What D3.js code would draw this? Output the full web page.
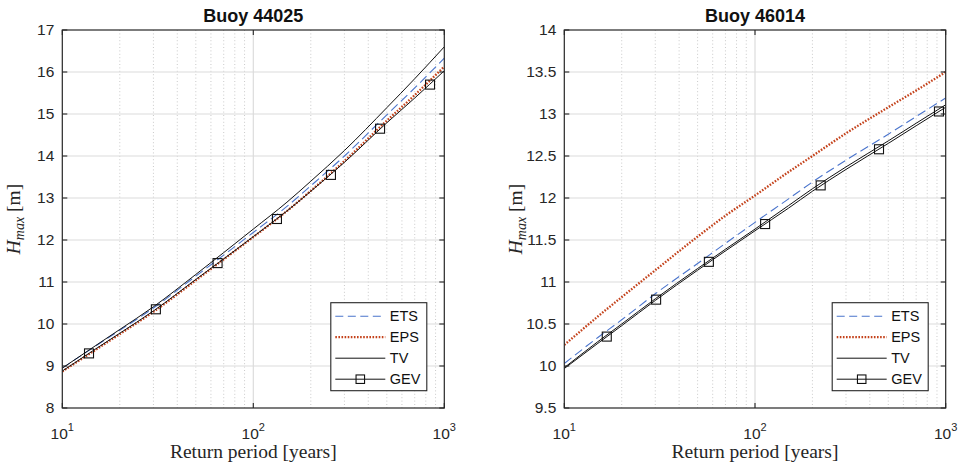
<!DOCTYPE html>
<html>
<head>
<meta charset="utf-8">
<script src="https://cdn.jsdelivr.net/npm/d3@7"></script>
<style>
  body { margin: 0; background: #fff; }
  svg { display: block; }
</style>
</head>
<body>
<svg id="chart" width="959" height="469"></svg>
<script>
// Return periods (years) at which each model curve is sampled
const returnPeriods = [10, 15, 20, 30, 50, 70, 100, 150, 200, 300, 500, 700, 1000];

// Buoy 44025 — maximum wave height Hmax [m]
const ets44025 = [8.95, 9.48, 9.85, 10.38, 11.14, 11.64, 12.18, 12.80, 13.29, 14.00, 14.98, 15.62, 16.33];
const eps44025 = [8.87, 9.39, 9.76, 10.29, 11.04, 11.54, 12.07, 12.69, 13.17, 13.88, 14.84, 15.45, 16.13];
const tv44025  = [8.95, 9.49, 9.87, 10.41, 11.18, 11.70, 12.26, 12.90, 13.40, 14.13, 15.15, 15.84, 16.60];
const gev44025 = [8.88, 9.41, 9.78, 10.31, 11.06, 11.55, 12.08, 12.69, 13.16, 13.85, 14.79, 15.38, 16.03];
const gevMarkerPeriods44025 = [13.8, 30.9, 65, 133, 255, 461, 842];
const gevMarkerValues44025  = [9.30, 10.35, 11.45, 12.50, 13.55, 14.65, 15.70];
const yTicks44025 = [8, 9, 10, 11, 12, 13, 14, 15, 16, 17];

// Buoy 46014 — maximum wave height Hmax [m]
const ets46014 = [10.03, 10.34, 10.55, 10.86, 11.22, 11.46, 11.71, 11.99, 12.19, 12.45, 12.76, 12.97, 13.19];
const eps46014 = [10.25, 10.59, 10.82, 11.14, 11.54, 11.79, 12.03, 12.31, 12.50, 12.77, 13.08, 13.28, 13.50];
const tv46014  = [9.98, 10.29, 10.50, 10.80, 11.16, 11.39, 11.63, 11.91, 12.11, 12.37, 12.68, 12.89, 13.11];
const gev46014 = [9.97, 10.27, 10.48, 10.78, 11.14, 11.37, 11.61, 11.88, 12.08, 12.34, 12.65, 12.86, 13.08];
const gevMarkerPeriods46014 = [16.7, 30.3, 57.3, 113, 221, 447, 922];
const gevMarkerValues46014  = [10.35, 10.79, 11.24, 11.69, 12.15, 12.58, 13.03];
const yTicks46014 = [9.5, 10, 10.5, 11, 11.5, 12, 12.5, 13, 13.5, 14];

// Shared x axis: decades and minor grid positions
const xDecadeExponents = [1, 2, 3];
const xMinorPeriods = [20, 30, 40, 50, 60, 70, 80, 90, 200, 300, 400, 500, 600, 700, 800, 900];

const legendNames = ["ETS", "EPS", "TV", "GEV"];

const seriesStyle = {
  ETS: { color: "#4a74cc", width: 1.1, dash: "9,4.5" },
  EPS: { color: "#c4421b", width: 2.3, dash: "1.6,1.5" },
  TV:  { color: "#111111", width: 1.0, dash: null },
  GEV: { color: "#111111", width: 1.0, dash: null }
};

const axisColor = "#262626";
const sansFont = "'Liberation Sans', Arial, Helvetica, sans-serif";
const serifFont = "'Liberation Serif', 'Times New Roman', serif";

const svg = d3.select("#chart");

const panels = [
  {
    id: "p44025", title: "Buoy 44025", left: 62.3, right: 444.3,
    yDomain: [8, 17], yTicks: yTicks44025,
    series: { ETS: ets44025, EPS: eps44025, TV: tv44025, GEV: gev44025 },
    markerT: gevMarkerPeriods44025, markerV: gevMarkerValues44025
  },
  {
    id: "p46014", title: "Buoy 46014", left: 564.3, right: 945.7,
    yDomain: [9.5, 14], yTicks: yTicks46014,
    series: { ETS: ets46014, EPS: eps46014, TV: tv46014, GEV: gev46014 },
    markerT: gevMarkerPeriods46014, markerV: gevMarkerValues46014
  }
];

const plotTop = 30, plotBottom = 408;

function drawSquare(sel, cx, cy, size) {
  sel.append("rect")
    .attr("x", cx - size / 2).attr("y", cy - size / 2)
    .attr("width", size).attr("height", size)
    .attr("fill", "none").attr("stroke", "#111").attr("stroke-width", 1.1);
}

panels.forEach(p => {
  const x = d3.scaleLog().domain([10, 1000]).range([p.left, p.right]);
  const y = d3.scaleLinear().domain(p.yDomain).range([plotBottom, plotTop]);
  const g = svg.append("g").attr("id", p.id);
  const cx = (p.left + p.right) / 2;

  // clip region for the curves
  svg.append("clipPath").attr("id", "clip-" + p.id)
    .append("rect").attr("x", p.left).attr("y", plotTop)
    .attr("width", p.right - p.left).attr("height", plotBottom - plotTop);

  // grid: dotted minor verticals, solid major lines
  g.selectAll("line.minor").data(xMinorPeriods).join("line")
    .attr("x1", d => x(d)).attr("x2", d => x(d))
    .attr("y1", plotTop).attr("y2", plotBottom)
    .attr("stroke", "#c4c4c4").attr("stroke-width", 0.9)
    .attr("stroke-dasharray", "1,2.4");
  g.selectAll("line.majx").data(xDecadeExponents.slice(1, -1)).join("line")
    .attr("x1", d => x(Math.pow(10, d))).attr("x2", d => x(Math.pow(10, d)))
    .attr("y1", plotTop).attr("y2", plotBottom)
    .attr("stroke", "#dcdcdc").attr("stroke-width", 1.2);
  g.selectAll("line.majy").data(p.yTicks.slice(1, -1)).join("line")
    .attr("x1", p.left).attr("x2", p.right)
    .attr("y1", d => y(d)).attr("y2", d => y(d))
    .attr("stroke", "#dcdcdc").attr("stroke-width", 1.2);

  // model curves
  const line = d3.line()
    .x((d, i) => x(returnPeriods[i]))
    .y(d => y(d))
    .curve(d3.curveMonotoneX);
  const curves = g.append("g").attr("clip-path", "url(#clip-" + p.id + ")");
  ["ETS", "EPS", "TV", "GEV"].forEach(name => {
    const st = seriesStyle[name];
    curves.append("path")
      .attr("d", line(p.series[name]))
      .attr("fill", "none")
      .attr("stroke", st.color)
      .attr("stroke-width", st.width)
      .attr("stroke-dasharray", st.dash);
  });
  // GEV square markers
  p.markerT.forEach((t, i) => drawSquare(curves, x(t), y(p.markerV[i]), 9));

  // axes box with inward ticks on all sides
  g.append("rect")
    .attr("x", p.left).attr("y", plotTop)
    .attr("width", p.right - p.left).attr("height", plotBottom - plotTop)
    .attr("fill", "none").attr("stroke", axisColor).attr("stroke-width", 1.2);
  const tickLen = 5;
  p.yTicks.forEach(v => {
    g.append("line").attr("x1", p.left).attr("x2", p.left + tickLen)
      .attr("y1", y(v)).attr("y2", y(v)).attr("stroke", axisColor).attr("stroke-width", 1.1);
    g.append("line").attr("x1", p.right).attr("x2", p.right - tickLen)
      .attr("y1", y(v)).attr("y2", y(v)).attr("stroke", axisColor).attr("stroke-width", 1.1);
  });
  xDecadeExponents.forEach(e => {
    const xv = x(Math.pow(10, e));
    g.append("line").attr("x1", xv).attr("x2", xv)
      .attr("y1", plotBottom).attr("y2", plotBottom - tickLen).attr("stroke", axisColor).attr("stroke-width", 1.1);
    g.append("line").attr("x1", xv).attr("x2", xv)
      .attr("y1", plotTop).attr("y2", plotTop + tickLen).attr("stroke", axisColor).attr("stroke-width", 1.1);
  });

  // y tick labels
  g.selectAll("text.yt").data(p.yTicks).join("text")
    .attr("x", p.left - 8).attr("y", d => y(d) + 5.4)
    .attr("text-anchor", "end")
    .attr("font-family", sansFont).attr("font-size", 15.5).attr("fill", "#262626")
    .text(d => String(d));

  // x tick labels as powers of ten
  xDecadeExponents.forEach(e => {
    const t = g.append("text")
      .attr("x", x(Math.pow(10, e))).attr("y", 438.5)
      .attr("text-anchor", "middle")
      .attr("font-family", sansFont).attr("font-size", 15.5).attr("fill", "#262626");
    t.append("tspan").text("10");
    t.append("tspan").attr("dy", -8).attr("font-size", 11).text(String(e));
  });

  // title
  g.append("text")
    .attr("x", cx).attr("y", 22)
    .attr("text-anchor", "middle")
    .attr("font-family", sansFont).attr("font-size", 18).attr("font-weight", "bold")
    .attr("fill", "#111")
    .text(p.title);

  // x axis label
  g.append("text")
    .attr("x", cx).attr("y", 458)
    .attr("text-anchor", "middle")
    .attr("font-family", serifFont).attr("font-size", 19.5).attr("fill", "#262626")
    .text("Return period [years]");

  // y axis label: H_max [m]
  const ylab = g.append("text")
    .attr("transform", `translate(${p.left - 42},${(plotTop + plotBottom) / 2}) rotate(-90)`)
    .attr("text-anchor", "middle")
    .attr("font-family", serifFont).attr("font-size", 19.5).attr("fill", "#262626");
  ylab.append("tspan").attr("font-style", "italic").text("H");
  ylab.append("tspan").attr("font-style", "italic").attr("font-size", 14).attr("dy", 3.5).text("max");
  ylab.append("tspan").attr("dy", -3.5).text(" [m]");

  // legend
  const lw = 96, lh = 88;
  const lx = p.right - 17.5 - lw, ly = plotBottom - 17.3 - lh;
  const lg = g.append("g");
  lg.append("rect").attr("x", lx).attr("y", ly).attr("width", lw).attr("height", lh)
    .attr("fill", "#fff").attr("stroke", axisColor).attr("stroke-width", 1.1);
  legendNames.forEach((name, i) => {
    const rowY = ly + 13.5 + i * 21;
    const st = seriesStyle[name];
    lg.append("line")
      .attr("x1", lx + 4.5).attr("x2", lx + 54.5)
      .attr("y1", rowY).attr("y2", rowY)
      .attr("stroke", st.color).attr("stroke-width", st.width)
      .attr("stroke-dasharray", name === "ETS" ? "8,4.5" : st.dash);
    if (name === "GEV") drawSquare(lg, lx + 29.5, rowY, 8.5);
    lg.append("text")
      .attr("x", lx + 59).attr("y", rowY + 5)
      .attr("font-family", sansFont).attr("font-size", 14.5).attr("fill", "#111")
      .text(name);
  });
});
</script>
</body>
</html>
